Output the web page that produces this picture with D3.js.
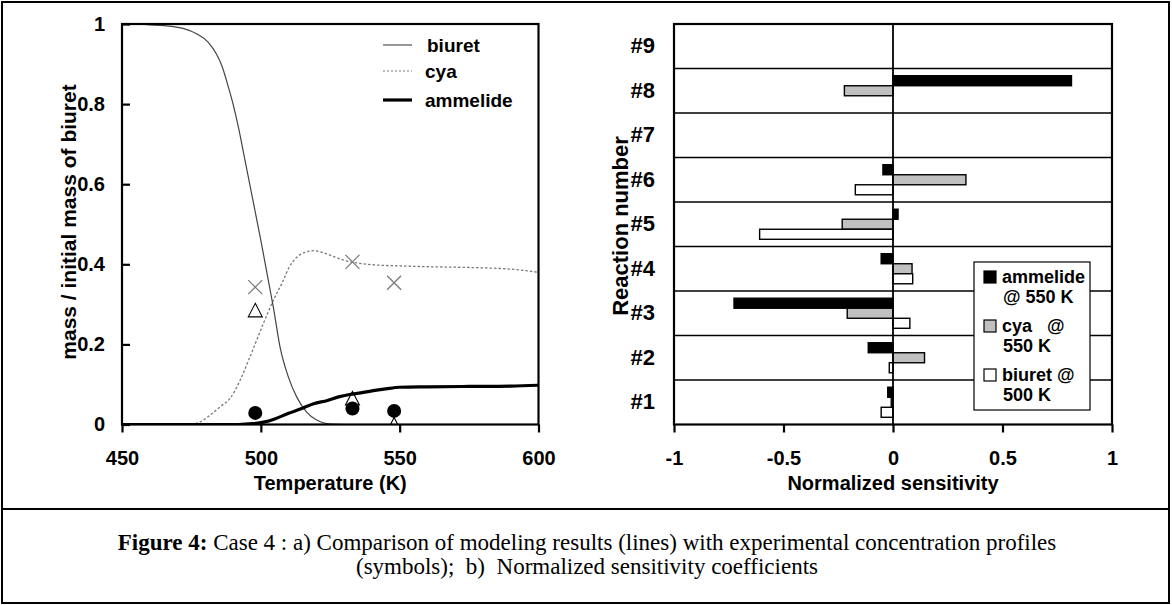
<!DOCTYPE html>
<html><head><meta charset="utf-8">
<script src="https://cdn.jsdelivr.net/npm/d3@7"></script>
<style>
html,body{margin:0;padding:0;background:#fff;}
svg{display:block;}
.sans{font-family:"Liberation Sans",Arial,sans-serif;font-weight:bold;}
</style></head>
<body>
<svg id="fig" width="1172" height="605"></svg>
<script>
// ---------- Data: panel a ----------
const biuretT   = [450,460,468,472,477,481,484,486,488,490,492,494,496,498,500,502.7,504.5,506.9,509.9,512.9,516.5,520.1,525,530,600];
const biuretV   = [1.0,0.998,0.994,0.989,0.975,0.955,0.925,0.895,0.85,0.8,0.74,0.67,0.6,0.53,0.46,0.36,0.293,0.194,0.119,0.069,0.031,0.011,0.001,0,0];
const cyaT      = [470,475,478,482,485.5,488.9,492.5,496.1,500.9,504.5,508.1,510,513,516,519,522,526,530,535,540,550,560,575,590,600];
const cyaV      = [0,0.001,0.006,0.025,0.045,0.065,0.11,0.169,0.252,0.31,0.36,0.39,0.418,0.43,0.434,0.43,0.42,0.41,0.403,0.399,0.396,0.394,0.392,0.388,0.38];
const ammT      = [450,492,497,501,505,510,514.7,519,524,528,532,536,540,545,550,560,575,590,600];
const ammV      = [0,0,0.002,0.006,0.014,0.028,0.04,0.052,0.06,0.069,0.075,0.079,0.084,0.089,0.093,0.094,0.095,0.096,0.098];
const expT      = [498,533,548];
const expCya    = [0.343,0.406,0.354];   // crosses
const expBiuret = [0.285,0.065,0.0];     // open triangles
const expAmm    = [0.029,0.040,0.034];   // filled circles
const xTicksA   = [450,500,550,600];
const yTicksA   = [0,0.2,0.4,0.6,0.8,1];

// ---------- Data: panel b ----------
const reactions   = ["#1","#2","#3","#4","#5","#6","#7","#8","#9"];
const ammelide550 = [-0.024,-0.113,-0.726,-0.054,0.023,-0.046,0,0.815,0];
const cya550      = [-0.008,0.144,-0.209,0.087,-0.232,0.333,0,-0.222,0];
const biuret500   = [-0.054,-0.017,0.077,0.09,-0.609,-0.172,0,0,0];
const seriesB     = ["ammelide","cya","biuret"];
const xTicksB     = [-1,-0.5,0,0.5,1];

const svg = d3.select("#fig");
svg.append("rect").attr("width",1172).attr("height",605).attr("fill","#fff");

// outer frame
svg.append("rect").attr("x",2).attr("y",2).attr("width",1167).attr("height",601)
   .attr("fill","none").attr("stroke","#000").attr("stroke-width",2);
svg.append("line").attr("x1",2).attr("x2",1169).attr("y1",509).attr("y2",509)
   .attr("stroke","#000").attr("stroke-width",2);

// ================= Panel a =================
const A = {l:122, r:538.5, t:24, b:424.5};
const x = d3.scaleLinear().domain([450,600]).range([A.l,A.r]);
const y = d3.scaleLinear().domain([0,1]).range([A.b,A.t]);
const ga = svg.append("g");

svg.append("clipPath").attr("id","clipA").append("rect")
  .attr("x",A.l).attr("y",A.t-2).attr("width",A.r-A.l).attr("height",A.b-A.t+2);

const line = d3.line().x(d=>x(d[0])).y(d=>y(d[1])).curve(d3.curveMonotoneX);
const plotA = ga.append("g").attr("clip-path","url(#clipA)");
plotA.append("path").datum(d3.zip(cyaT,cyaV)).attr("d",line)
  .attr("fill","none").attr("stroke","#7a7a7a").attr("stroke-width",1.3).attr("stroke-dasharray","2.5,2");
plotA.append("path").datum(d3.zip(biuretT,biuretV)).attr("d",line)
  .attr("fill","none").attr("stroke","#444").attr("stroke-width",1.2);
plotA.append("path").datum(d3.zip(ammT,ammV)).attr("d",line)
  .attr("fill","none").attr("stroke","#000").attr("stroke-width",3.2);

// experimental symbols
expT.forEach((t,i)=>{
  const cx=x(t), cy=y(expCya[i]), s=7;
  plotA.append("path").attr("d",`M${cx-s},${cy-s}L${cx+s},${cy+s}M${cx-s},${cy+s}L${cx+s},${cy-s}`)
    .attr("stroke","#7a7a7a").attr("stroke-width",1.3).attr("fill","none");
});
expT.forEach((t,i)=>{
  const cx=x(t), cy=y(expBiuret[i]);
  plotA.append("path").attr("d",`M${cx},${cy-7}L${cx+7},${cy+6.5}L${cx-7},${cy+6.5}Z`)
    .attr("stroke","#000").attr("stroke-width",1.1).attr("fill","none");
});
expT.forEach((t,i)=>{
  plotA.append("circle").attr("cx",x(t)).attr("cy",y(expAmm[i])).attr("r",7).attr("fill","#000");
});

// frame
ga.append("rect").attr("x",A.l).attr("y",A.t).attr("width",A.r-A.l).attr("height",A.b-A.t)
  .attr("fill","none").attr("stroke","#000").attr("stroke-width",2.2);

// axes
const yAxA = ga.append("g").attr("transform",`translate(${A.l},0)`)
  .call(d3.axisLeft(y).tickValues(yTicksA).tickFormat(d3.format("")).tickSize(-8).tickPadding(17));
const xAxA = ga.append("g").attr("transform",`translate(0,${A.b})`)
  .call(d3.axisBottom(x).tickValues(xTicksA).tickSize(8).tickPadding(18));
[yAxA,xAxA].forEach(g=>{
  g.select(".domain").remove();
  g.selectAll(".tick line").attr("stroke","#000").attr("stroke-width",2.2);
  g.selectAll("text").attr("class","sans").attr("font-size",20).attr("fill","#000");
});

ga.append("text").attr("class","sans").attr("font-size",20).attr("text-anchor","middle")
  .attr("x",(A.l+A.r)/2).attr("y",490).text("Temperature (K)");
ga.append("text").attr("class","sans").attr("font-size",21).attr("text-anchor","middle")
  .attr("transform",`translate(76,222) rotate(-90)`).text("mass / initial mass of biuret");

// legend a
const legA = [
  {name:"biuret", y:45, stroke:"#6a6a6a", w:1.4, dash:null, tx:427},
  {name:"cya", y:71, stroke:"#7a7a7a", w:1.2, dash:"2,2", tx:425},
  {name:"ammelide", y:100, stroke:"#000", w:3.2, dash:null, tx:425}
];
legA.forEach(d=>{
  ga.append("line").attr("x1",383).attr("x2",412).attr("y1",d.y).attr("y2",d.y)
    .attr("stroke",d.stroke).attr("stroke-width",d.w).attr("stroke-dasharray",d.dash);
  ga.append("text").attr("class","sans").attr("font-size",19).attr("x",d.tx).attr("y",d.y+6.5).text(d.name);
});

// ================= Panel b =================
const B = {l:674, r:1112, t:24, b:424.5};
const xb = d3.scaleLinear().domain([-1,1]).range([B.l,B.r]);
const yb = d3.scaleBand().domain(reactions).range([B.b,B.t]).padding(0);
const yin = d3.scaleBand().domain(seriesB).range([0,yb.bandwidth()]).paddingInner(0).paddingOuter(0.72);
const gb = svg.append("g");

// band separators
gb.selectAll("line.sep").data(reactions.slice(1)).enter().append("line")
  .attr("x1",B.l).attr("x2",B.r)
  .attr("y1",d=>yb(d)+yb.bandwidth()).attr("y2",d=>yb(d)+yb.bandwidth())
  .attr("stroke","#000").attr("stroke-width",1.6);

const fills = {ammelide:"#000", cya:"#c0c0c0", biuret:"#fff"};
const vals = {ammelide:ammelide550, cya:cya550, biuret:biuret500};
seriesB.forEach(s=>{
  reactions.forEach((r,i)=>{
    const v = vals[s][i];
    if(v===0) return;
    gb.append("rect")
      .attr("x",Math.min(xb(0),xb(v))).attr("width",Math.abs(xb(v)-xb(0)))
      .attr("y",yb(r)+yin(s)).attr("height",yin.bandwidth())
      .attr("fill",fills[s]).attr("stroke","#000").attr("stroke-width",1.4);
  });
});
// zero line
gb.append("line").attr("x1",xb(0)).attr("x2",xb(0)).attr("y1",B.t).attr("y2",B.b)
  .attr("stroke","#000").attr("stroke-width",1.8);
// frame
gb.append("rect").attr("x",B.l).attr("y",B.t).attr("width",B.r-B.l).attr("height",B.b-B.t)
  .attr("fill","none").attr("stroke","#000").attr("stroke-width",2.2);

const xAxB = gb.append("g").attr("transform",`translate(0,${B.b})`)
  .call(d3.axisBottom(xb).tickValues(xTicksB).tickFormat(d=>String(d)).tickSize(8).tickPadding(18));
const yAxB = gb.append("g").attr("transform",`translate(${B.l},0)`)
  .call(d3.axisLeft(yb).tickSize(0).tickPadding(19));
[xAxB,yAxB].forEach(g=>{
  g.select(".domain").remove();
  g.selectAll(".tick line").attr("stroke","#000").attr("stroke-width",2.2);
  g.selectAll("text").attr("class","sans").attr("font-size",20).attr("fill","#000");
});
yAxB.selectAll("text").attr("font-size",22);

gb.append("text").attr("class","sans").attr("font-size",20).attr("text-anchor","middle")
  .attr("x",(B.l+B.r)/2).attr("y",490).text("Normalized sensitivity");
gb.append("text").attr("class","sans").attr("font-size",22).attr("text-anchor","middle")
  .attr("transform",`translate(628,226) rotate(-90)`).text("Reaction number");

// legend b
gb.append("rect").attr("x",974).attr("y",262).attr("width",116).attr("height",148)
  .attr("fill","#fff").attr("stroke","#000").attr("stroke-width",1.2);
const legB = [
  {s:"ammelide", l1:"ammelide", l2:"@ 550 K", y:283},
  {s:"cya", l1:"cya   @", l2:"550 K", y:332},
  {s:"biuret", l1:"biuret @", l2:"500 K", y:381}
];
legB.forEach(d=>{
  gb.append("rect").attr("x",984).attr("y",d.y-12).attr("width",12).attr("height",12)
    .attr("fill",fills[d.s]).attr("stroke","#000").attr("stroke-width",1.2);
  gb.append("text").attr("class","sans").attr("font-size",18).attr("x",1002).attr("y",d.y)
    .style("white-space","pre").text(d.l1);
  gb.append("text").attr("class","sans").attr("font-size",18).attr("x",1003).attr("y",d.y+20).text(d.l2);
});

// ================= Caption =================
const cap = svg.append("g").attr("font-family","'Liberation Serif','Times New Roman',serif").attr("font-size",23);
const t1 = cap.append("text").attr("x",587).attr("y",550).attr("text-anchor","middle");
t1.append("tspan").attr("font-weight","bold").text("Figure 4:");
t1.append("tspan").text(" Case 4 : a) Comparison of modeling results (lines) with experimental concentration profiles");
cap.append("text").attr("x",587).attr("y",574).attr("text-anchor","middle")
  .style("white-space","pre").text("(symbols);  b)  Normalized sensitivity coefficients");
</script>
</body></html>
